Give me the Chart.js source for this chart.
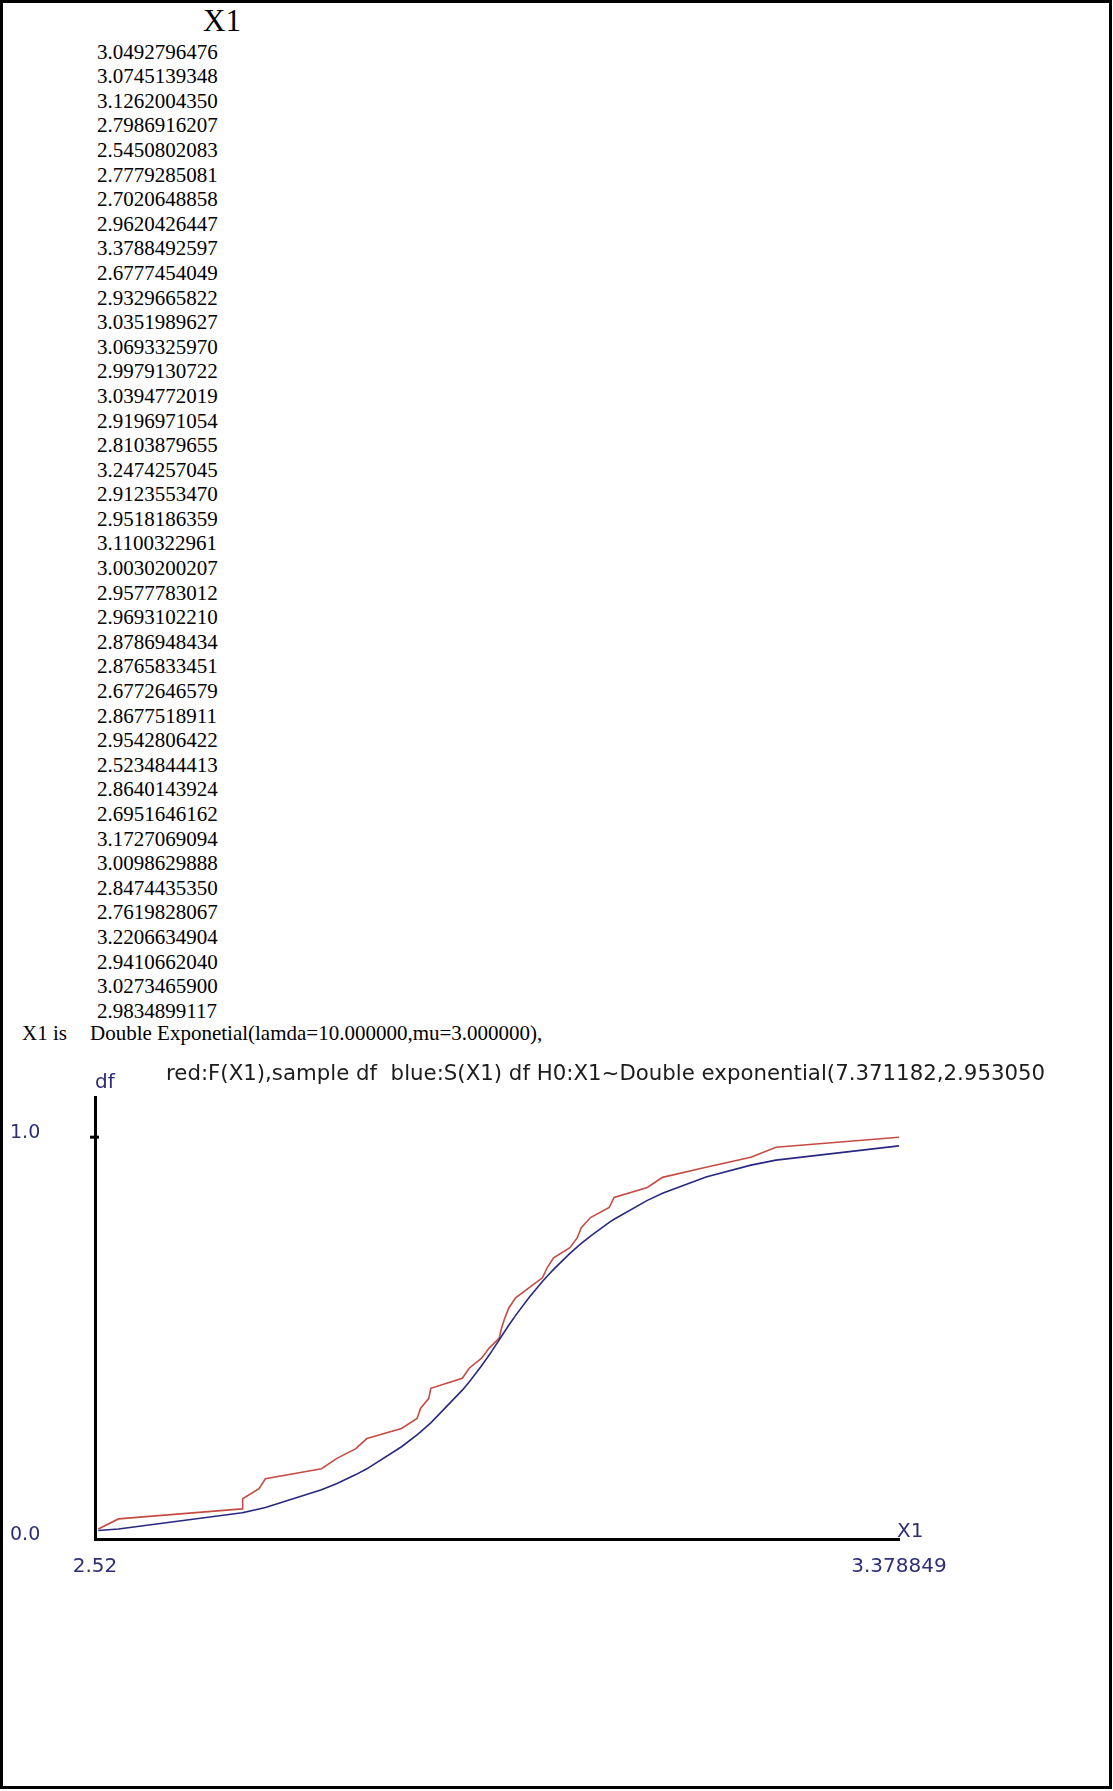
<!DOCTYPE html>
<html>
<head>
<meta charset="utf-8">
<script src="https://cdn.jsdelivr.net/npm/chart.js@4.4.0/dist/chart.umd.min.js"></script>
<style>
html, body { margin: 0; padding: 0; background: #fff; }
body { width: 1113px; height: 1791px; position: relative; overflow: hidden; }
#frame { position: absolute; left: 0; top: 0; width: 1112px; height: 1789px; border: 3px solid #000; box-sizing: border-box; }
.serif { position: absolute; font-family: "Liberation Serif", "Times New Roman", serif; color: #000; white-space: pre; }
#colHead { left: 203px; top: 5px; font-size: 31px; line-height: 32px; }
#values { left: 97px; top: 39.6px; font-size: 21px; line-height: 24.6px; }
.dist { top: 1021px; font-size: 21px; line-height: 24.6px; }
#chartBox { position: absolute; left: 0; top: 1040px; width: 1045px; height: 560px; }
</style>
</head>
<body>
<div id="frame"></div>
<div id="colHead" class="serif">X1</div>
<div id="values" class="serif"></div>
<div class="serif dist" style="left:22px">X1 is</div>
<div class="serif dist" style="left:90px">Double Exponetial(lamda=10.000000,mu=3.000000),</div>
<div id="chartBox"><canvas id="cdf" width="1045" height="560"></canvas></div>
<script>
// Sample of X1, in the order it was listed
const sampleValues = [
  '3.0492796476', '3.0745139348', '3.1262004350', '2.7986916207', '2.5450802083',
  '2.7779285081', '2.7020648858', '2.9620426447', '3.3788492597', '2.6777454049',
  '2.9329665822', '3.0351989627', '3.0693325970', '2.9979130722', '3.0394772019',
  '2.9196971054', '2.8103879655', '3.2474257045', '2.9123553470', '2.9518186359',
  '3.1100322961', '3.0030200207', '2.9577783012', '2.9693102210', '2.8786948434',
  '2.8765833451', '2.6772646579', '2.8677518911', '2.9542806422', '2.5234844413',
  '2.8640143924', '2.6951646162', '3.1727069094', '3.0098629888', '2.8474435350',
  '2.7619828067', '3.2206634904', '2.9410662040', '3.0273465900', '2.9834899117'
];

// Sample df (red), one value per ordered observation
const empiricalDF = [
  0.025, 0.050, 0.075, 0.100, 0.125, 0.150, 0.175, 0.200, 0.225, 0.250,
  0.275, 0.300, 0.325, 0.350, 0.375, 0.400, 0.425, 0.450, 0.475, 0.500,
  0.525, 0.550, 0.575, 0.600, 0.625, 0.650, 0.675, 0.700, 0.725, 0.750,
  0.775, 0.800, 0.825, 0.850, 0.875, 0.900, 0.925, 0.950, 0.975, 1.000
];

// Fitted df under H0 (blue), at the same ordered observations
const fittedDF = [
  0.0211, 0.0247, 0.0655, 0.0657, 0.0747, 0.0786, 0.1223, 0.1375, 0.1603, 0.1747,
  0.2296, 0.2594, 0.2666, 0.2846, 0.2890, 0.3704, 0.3910, 0.4312, 0.4577, 0.4955,
  0.5045, 0.5171, 0.5321, 0.5565, 0.6005, 0.6408, 0.6541, 0.6711, 0.7109, 0.7271,
  0.7356, 0.7540, 0.7878, 0.7958, 0.8428, 0.8605, 0.9010, 0.9305, 0.9429, 0.9783
];

const xTickValues = [2.52, 3.378849];
const xTickLabels = ['2.52', '3.378849'];
const yTickValues = [0, 1];
const yTickLabels = ['0.0', '1.0'];
const chartTitle = 'red:F(X1),sample df  blue:S(X1) df H0:X1~Double exponential(7.371182,2.953050)';

// listing of the sample
document.getElementById('values').textContent = sampleValues.join('\n');

const orderedX = sampleValues.map(Number).sort((a, b) => a - b);
const redPoints = orderedX.map((x, i) => ({ x: x, y: empiricalDF[i] }));
const bluePoints = orderedX.map((x, i) => ({ x: x, y: fittedDF[i] }));

const NAVY = '#2e2e78';
const UI_FONT = '"DejaVu Sans", Verdana, sans-serif';

// axis names, the 1.0 tick that crosses the axis, and the heading (cut off by the canvas edge)
const axisDecor = {
  id: 'axisDecor',
  afterDraw(chart) {
    const { ctx, chartArea, scales } = chart;
    const y1 = scales.y.getPixelForValue(1);
    ctx.save();
    ctx.strokeStyle = '#000';
    ctx.lineWidth = 3;
    ctx.beginPath();
    ctx.moveTo(chartArea.left - 5, y1);
    ctx.lineTo(chartArea.left + 4, y1);
    ctx.stroke();

    ctx.textBaseline = 'alphabetic';
    ctx.textAlign = 'left';
    ctx.fillStyle = NAVY;
    ctx.font = '20px ' + UI_FONT;
    ctx.fillText('df', chartArea.left, chartArea.top - 9);
    ctx.fillText('X1', chartArea.right - 2, chartArea.bottom - 2);

    ctx.fillStyle = '#1c1c1c';
    ctx.font = '21.3px ' + UI_FONT;
    ctx.fillText(chartTitle, chartArea.left + 71, chartArea.top - 17);
    ctx.restore();
  }
};

new Chart(document.getElementById('cdf'), {
  type: 'scatter',
  data: {
    datasets: [
      {
        label: 'S(X1)',
        data: bluePoints,
        showLine: true,
        borderColor: 'rgb(40,40,128)',
        borderWidth: 1.6,
        pointRadius: 0,
        tension: 0
      },
      {
        label: 'F(X1)',
        data: redPoints,
        showLine: true,
        borderColor: 'rgb(196,76,66)',
        borderWidth: 1.6,
        pointRadius: 0,
        tension: 0
      }
    ]
  },
  options: {
    responsive: false,
    animation: false,
    devicePixelRatio: 1,
    layout: { padding: { left: 10, top: 57, right: 146, bottom: 0 } },
    plugins: { legend: { display: false }, tooltip: { enabled: false }, title: { display: false } },
    scales: {
      x: {
        type: 'linear',
        min: xTickValues[0],
        max: xTickValues[1],
        grid: { display: false },
        border: { display: true, color: '#000', width: 3 },
        afterBuildTicks(scale) { scale.ticks = xTickValues.map(v => ({ value: v })); },
        afterFit(scale) { scale.height = 61; },
        ticks: {
          autoSkip: false,
          maxRotation: 0,
          padding: 8,
          color: NAVY,
          font: { family: UI_FONT, size: 20 },
          callback: (v, i) => xTickLabels[i]
        }
      },
      y: {
        type: 'linear',
        min: 0,
        max: 1.1,
        grid: { display: false },
        border: { display: true, color: '#000', width: 3 },
        afterBuildTicks(scale) { scale.ticks = yTickValues.map(v => ({ value: v })); },
        afterFit(scale) { scale.width = 85; },
        ticks: {
          crossAlign: 'far',
          labelOffset: -4,
          color: NAVY,
          font: { family: UI_FONT, size: 19 },
          callback: (v, i) => yTickLabels[i]
        }
      }
    }
  },
  plugins: [axisDecor]
});
</script>
</body>
</html>
